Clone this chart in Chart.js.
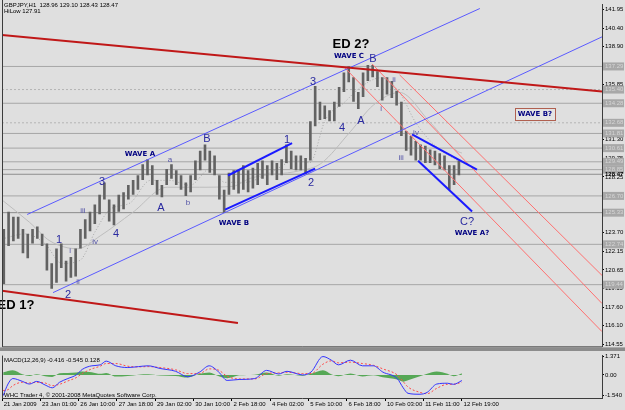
<!DOCTYPE html>
<html><head><meta charset="utf-8">
<script src="https://cdn.jsdelivr.net/npm/chart.js@4.4.1/dist/chart.umd.min.js"></script>
<style>
html,body{margin:0;padding:0;background:#dfdfdf;width:625px;height:410px;overflow:hidden}
#w1{position:absolute;left:0;top:0;width:625px;height:351px}
#w2{position:absolute;left:0;top:351px;width:625px;height:59px}
</style></head><body>
<div id="w1"><canvas id="c1"></canvas></div>
<div id="w2"><canvas id="c2"></canvas></div>
<script>
// ---------- data ----------
const xTickBars = [0,32,64,96,128,160,192,224,256,288,320,352,384];
const xTickLabels = ["21 Jan 2009","23 Jan 01:00","26 Jan 10:00","27 Jan 18:00","29 Jan 02:00","30 Jan 10:00","2 Feb 18:00","4 Feb 02:00","5 Feb 10:00","6 Feb 18:00","10 Feb 03:00","11 Feb 11:00","12 Feb 19:00"];
const yTicks = [141.95,140.40,138.90,137.35,135.85,134.30,132.80,131.30,129.75,128.25,126.70,125.20,123.70,122.15,120.65,119.15,117.60,116.10,114.55];

// price ranges, one per 4 hourly bars
const priceLow = [119.5,122.6,123.0,123.2,122.0,121.6,122.8,123.2,122.6,120.6,
119.1,119.6,120.8,119.7,120.0,120.1,122.4,123.2,123.8,124.4,
125.2,126.4,124.6,124.3,125.4,125.6,126.4,126.8,127.2,128.0,
128.4,127.6,126.8,126.6,127.6,128.1,127.6,127.2,126.7,127.0,
128.0,128.8,129.6,128.6,128.4,126.4,125.3,126.8,127.2,126.9,
127.2,127.0,127.3,127.6,128.1,127.6,128.4,128.0,128.4,129.4,
128.9,128.8,128.8,128.5,129.6,132.4,132.9,133.0,132.8,132.8,
134.0,135.2,136.0,134.4,133.8,134.8,136.1,136.4,135.6,134.5,
135.0,134.7,134.1,131.6,130.4,130.0,129.6,129.6,129.4,129.4,
129.2,128.9,128.8,127.2,127.6,128.4];
const priceHigh = [124.0,125.4,125.0,125.0,124.0,123.6,124.0,124.2,123.6,122.8,
121.2,122.4,122.8,121.4,121.7,122.4,124.0,124.8,125.4,126.0,
126.8,127.8,126.4,126.0,126.8,127.0,127.6,128.0,128.4,129.3,
129.7,129.2,128.0,127.6,128.9,129.3,128.8,128.4,127.8,128.4,
129.6,130.4,130.9,130.4,130.0,128.4,127.2,128.6,128.8,128.8,
129.2,128.8,129.0,129.4,129.6,129.2,129.6,129.4,129.7,130.9,
130.4,130.0,130.0,129.8,132.8,135.7,134.4,134.1,133.7,134.4,
135.6,136.8,137.3,136.4,135.2,136.8,137.4,137.4,136.9,136.4,
136.4,136.1,135.3,134.4,132.0,131.6,131.2,130.9,130.8,130.5,
130.4,130.2,130.0,129.2,129.2,129.6];
const binHours = 4;

const hLevels = [137.29,135.40,134.28,132.68,131.81,130.61,129.49,128.85,126.70,125.33,122.74,119.44];
const lastPrice = 128.47;

const maSlowBars = [0,23,40,63,82,109,138,165,193,207,249,266,291,310,332,357,380,384];
const maSlowVals = [126.37,124.54,123.02,122.38,123.43,125.34,127.41,127.41,127.49,128.13,128.77,129.33,131.97,134.12,135.16,132.77,130.37,130.21];
const maFastBars = [0,19,36,50,65,78,90,107,124,140,157,174,186,203,224,245,257,270,286,299,316,332,345,362,378,384];
const maFastVals = [123.18,123.59,122.78,121.18,121.42,123.82,125.58,126.13,127.97,127.97,127.57,128.93,127.81,127.81,128.61,129.57,129.41,132.92,134.36,135.56,136.36,135.16,132.77,130.77,129.73,129.41];

// trend lines: [bar1, price1, bar2, price2]
const redThick = [[0,139.87,501,135.24],[0,118.95,197,116.31]];
const redThin = [[285,137.3,501,115.6],[309,137.5,501,117.9],[332,136.6,501,120.2]];
const blueThin = [[21,125.18,399,142.03],[42.6,118.79,501,139.71]];
const blueThick = [[188.7,128.37,242.2,131.01],[186.2,125.58,261.4,128.93],[342.4,131.73,396.6,128.85],[347.4,129.57,392.5,125.42]];

// wave labels: text, bar, price, kind
const waveLabels = [
 ["ED 2?",291.4,139.07,"head"],["WAVE C",289.7,138.12,"wave"],["B",309.8,137.88,"big"],
 ["3",259.7,136.04,"big"],["4",283.9,132.29,"big"],["A",299.8,132.84,"big"],
 ["i",316.5,133.80,"small"],["ii",327.3,136.20,"small"],["iii",333.2,129.81,"small"],["iv",345.7,131.89,"small"],
 ["2",258,127.73,"big"],["1",238,131.25,"big"],["WAVE B",193.7,124.46,"wave"],
 ["B",171.2,131.33,"big"],["a",140.3,129.65,"small"],["b",155.3,126.13,"small"],["A",132.8,125.74,"big"],
 ["WAVE A",115.2,130.13,"wave"],["3",83.5,127.81,"big"],["iii",67.6,125.50,"small"],["4",95.2,123.59,"big"],
 ["iv",77.7,122.94,"small"],["1",47.6,123.10,"big"],["i",56.8,122.22,"small"],["ii",63.5,119.67,"small"],
 ["2",55.1,118.63,"big"],["ED 1?",11.7,117.75,"head"],["C?",388.3,124.54,"big"],
 ["WAVE A?",392.5,123.66,"wave"],["WAVE B?",445,133.40,"box"]
];

const macdBars = [1,5,9,17,23,29,36,42,48,55,62,67,75,82,87,95,105,114,122,132,145,155,165,173,181,188,198,211,221,231,238,251,258,268,275,281,291,301,310,318,330,335,339,349,355,363,372,377,384];
const macdMain = [-1.54,-0.68,-0.27,-0.48,-0.68,-0.48,-0.75,-0.96,-0.55,-0.27,0,0.41,0.68,0.75,1.03,0.68,0.55,0.62,0.68,0.48,0.27,-0.14,0.21,0.68,0.21,-0.41,-0.34,-0.27,0.34,0.07,0.27,0,0.21,1.37,1.10,0.75,1.10,0.68,0.68,0.21,-0.27,-0.96,-1.37,-1.44,-1.30,-0.68,-0.62,-0.70,-0.42];
const macdSignal = [-1.16,-1.1,-0.8,-0.55,-0.6,-0.55,-0.6,-0.8,-0.7,-0.45,-0.2,0.1,0.45,0.65,0.85,0.85,0.65,0.6,0.62,0.55,0.38,0.1,0.1,0.45,0.35,-0.1,-0.3,-0.3,0.1,0.15,0.2,0.1,0.1,0.8,1.05,0.9,0.95,0.85,0.72,0.45,0.0,-0.5,-0.9,-1.3,-1.4,-1.0,-0.7,-0.7,-0.545];
const macdHist = [0.2,0.3,0.35,0.05,-0.08,0.05,-0.1,-0.15,0.12,0.15,0.18,0.25,0.2,0.08,0.15,-0.12,-0.08,0.02,0.05,-0.05,-0.08,-0.2,0.08,0.18,-0.1,-0.25,-0.03,0.02,0.18,-0.06,0.05,-0.06,0.08,0.35,0.05,-0.1,0.1,-0.12,-0.03,-0.18,-0.35,-0.5,-0.4,-0.1,0.08,0.25,0.08,-0.1,0.128];
const macdTicks = [1.371,0,-1.54];
const macdTickText = ["1.371","0.00","-1.540"];

// ---------- chart building ----------
const X_MAX = 501;
const SMALL = "6px 'Liberation Sans', Arial, sans-serif";
const segs = (arr, color, width, order, dash) => arr.map(s => ({
  type:'line', data:[{x:s[0],y:s[1]},{x:s[2],y:s[3]}], borderColor:color, borderWidth:width,
  borderDash:dash||[], pointRadius:0, order:order, clip:0
}));

const datasets = [];
hLevels.forEach((v,i) => datasets.push({type:'line', data:[{x:0,y:v},{x:X_MAX,y:v}], borderColor:(i===1||i===3)?'#b4b4b4':(i===9?'#8a8a8a':'#a6a6a6'), borderWidth:1, borderDash:(i===1||i===3)?[2,2]:[], pointRadius:0, order:20, clip:0}));
datasets.push({type:'line', data:[{x:0,y:lastPrice},{x:X_MAX,y:lastPrice}], borderColor:'#8e8e8e', borderWidth:1, pointRadius:0, order:20, clip:0});
datasets.push({type:'line', data:maSlowBars.map((b,i)=>({x:b,y:maSlowVals[i]})), borderColor:'#bdbdbd', borderWidth:1, pointRadius:0, cubicInterpolationMode:'monotone', order:15, clip:0});
datasets.push({type:'line', data:maFastBars.map((b,i)=>({x:b,y:maFastVals[i]})), borderColor:'#a8a8a8', borderWidth:1, borderDash:[1,2], pointRadius:0, cubicInterpolationMode:'monotone', order:15, clip:0});
datasets.push({type:'bar', data:priceLow.map((lo,i)=>({x:i*binHours+1.5, y:[lo, priceHigh[i]]})), backgroundColor:'#626262', borderWidth:0, barPercentage:0.55, categoryPercentage:1, order:10, grouped:false});
segs(redThin,'#ff7070',1,5).forEach(d=>datasets.push(d));
segs(blueThin,'#5a5aff',1,4).forEach(d=>datasets.push(d));
segs(redThick,'#c01818',2,3).forEach(d=>datasets.push(d));
segs(blueThick,'#1a1aff',2,2).forEach(d=>datasets.push(d));

const labelStyle = {
  head:{font:"bold 13px 'Liberation Sans', Arial, sans-serif", color:'#000000'},
  wave:{font:"bold 7px 'DejaVu Sans', Verdana, sans-serif", color:'#000080'},
  big:{font:"11px 'Liberation Sans', Arial, sans-serif", color:'#2a2aa0'},
  small:{font:"8px 'Liberation Sans', Arial, sans-serif", color:'#5656a8'},
  box:{font:"bold 7px 'DejaVu Sans', Verdana, sans-serif", color:'#000080'}
};

const mainPlugin = {
  id:'mainOverlay',
  beforeDraw(chart){
    const {ctx} = chart;
    ctx.save(); ctx.fillStyle='#dfdfdf'; ctx.fillRect(0,0,chart.width,chart.height); ctx.restore();
  },
  afterDatasetsDraw(chart){
    const {ctx, scales:{x,y}} = chart;
    ctx.save();
    ctx.textAlign='center'; ctx.textBaseline='middle';
    waveLabels.forEach(l=>{
      const st = labelStyle[l[3]];
      ctx.font = st.font; ctx.fillStyle = st.color;
      const px = x.getPixelForValue(l[1]), py = y.getPixelForValue(l[2]);
      if(l[3]==='box'){
        const w = ctx.measureText(l[0]).width+6;
        ctx.fillStyle='#e4e4e4'; ctx.fillRect(px-w/2,py-6,w,12);
        ctx.strokeStyle='#b06050'; ctx.lineWidth=1; ctx.strokeRect(Math.round(px-w/2)+0.5,Math.round(py-6)+0.5,Math.round(w),12);
        ctx.fillStyle=st.color;
      }
      ctx.fillText(l[0], px, py);
    });
    ctx.restore();
  },
  afterDraw(chart){
    const {ctx, chartArea:a, scales:{y}} = chart;
    ctx.save();
    ctx.strokeStyle='#3c3c3c'; ctx.lineWidth=1;
    ctx.beginPath(); ctx.moveTo(a.left+0.5,0); ctx.lineTo(a.left+0.5,a.bottom+0.5); ctx.lineTo(a.right,a.bottom+0.5); ctx.stroke();
    ctx.fillStyle='#8c8c8c'; ctx.fillRect(0,a.bottom+1,chart.width,chart.height-a.bottom-1);
    ctx.font = SMALL; ctx.textAlign='left'; ctx.textBaseline='middle';
    hLevels.forEach(v=>{
      const py = y.getPixelForValue(v);
      ctx.fillStyle='#a8a8a8'; ctx.fillRect(a.right+1, py-4, 21, 8);
      ctx.fillStyle='#d6d6d6'; ctx.fillText(v.toFixed(2), a.right+3, py);
    });
    const pl = y.getPixelForValue(lastPrice);
    ctx.fillStyle='#000000'; ctx.font="bold 6px 'Liberation Sans', Arial, sans-serif";
    ctx.fillText(lastPrice.toFixed(2), a.right+3, pl);
    ctx.font = SMALL; ctx.fillStyle='#000000';
    ctx.fillText('GBPJPY,H1  128.96 129.10 128.43 128.47', 4, 5);
    ctx.fillText('HiLow 127.91', 4, 11);
    ctx.restore();
  }
};

new Chart(document.getElementById('c1'), {
  data:{datasets},
  options:{
    responsive:true, maintainAspectRatio:false, animation:false,
    layout:{padding:{left:2,top:0,right:0,bottom:1}},
    plugins:{legend:{display:false}, tooltip:{enabled:false}},
    scales:{
      x:{type:'linear', min:0, max:X_MAX, display:false, offset:false},
      y:{type:'linear', position:'right', min:114.39, max:142.35,
         afterBuildTicks:s=>{s.ticks = yTicks.map(v=>({value:v}));},
         afterFit:s=>{s.width=23;},
         grid:{display:true, drawOnChartArea:false, drawTicks:true, tickLength:2, color:'#000'},
         border:{display:true, color:'#3c3c3c'},
         ticks:{padding:1, color:'#000', font:{family:"'Liberation Sans', Arial, sans-serif", size:6}, callback:v=>v.toFixed(2), autoSkip:false}
      }
    }
  },
  plugins:[mainPlugin]
});

const macdPlugin = {
  id:'macdOverlay',
  beforeDraw(chart){
    const {ctx} = chart;
    ctx.save(); ctx.fillStyle='#dfdfdf'; ctx.fillRect(0,0,chart.width,chart.height); ctx.restore();
  },
  afterDraw(chart){
    const {ctx, chartArea:a} = chart;
    ctx.save();
    ctx.strokeStyle='#3c3c3c'; ctx.lineWidth=1;
    ctx.beginPath(); ctx.moveTo(a.left+0.5,a.top); ctx.lineTo(a.left+0.5,a.bottom+0.5); ctx.stroke();
    ctx.font = SMALL; ctx.fillStyle='#000'; ctx.textAlign='left'; ctx.textBaseline='middle';
    ctx.fillText('MACD(12,26,9) -0.416 -0.545 0.128', 4, a.top+5);
    ctx.fillText('WHC Trader 4, \u00a9 2001-2008 MetaQuotes Software Corp.', 4, a.bottom-3);
    ctx.restore();
  }
};

new Chart(document.getElementById('c2'), {
  data:{datasets:[
    {type:'line', data:macdBars.map((b,i)=>({x:b,y:macdMain[i]})), borderColor:'#3434ff', borderWidth:1, pointRadius:0, cubicInterpolationMode:'monotone', order:1, clip:0},
    {type:'line', data:macdBars.map((b,i)=>({x:b,y:macdSignal[i]})), borderColor:'#ff4a4a', borderWidth:1, borderDash:[2,2], pointRadius:0, cubicInterpolationMode:'monotone', order:2, clip:0},
    {type:'line', data:macdBars.map((b,i)=>({x:b,y:macdHist[i]})), borderWidth:0, borderColor:'rgba(0,0,0,0)', backgroundColor:'rgba(40,150,40,0.75)', fill:'origin', pointRadius:0, cubicInterpolationMode:'monotone', order:3, clip:0}
  ]},
  options:{
    responsive:true, maintainAspectRatio:false, animation:false,
    layout:{padding:{left:2,top:1,right:0,bottom:0}},
    plugins:{legend:{display:false}, tooltip:{enabled:false}},
    scales:{
      x:{type:'linear', min:0, max:X_MAX, position:'bottom',
         afterBuildTicks:s=>{s.ticks = xTickBars.map(v=>({value:v}));},
         afterFit:s=>{s.height=12;},
         grid:{display:true, drawOnChartArea:false, drawTicks:true, tickLength:3, color:'#000'},
         border:{display:true, color:'#3c3c3c'},
         ticks:{align:'start', padding:0, maxRotation:0, autoSkip:false, color:'#000', font:{family:"'Liberation Sans', Arial, sans-serif", size:6}, callback:(v,i)=>' '+xTickLabels[i]}
      },
      y:{type:'linear', position:'right', min:-1.72, max:1.44,
         afterBuildTicks:s=>{s.ticks = macdTicks.map(v=>({value:v}));},
         afterFit:s=>{s.width=23;},
         grid:{display:true, drawOnChartArea:false, drawTicks:true, tickLength:2, color:'#000'},
         border:{display:true, color:'#3c3c3c'},
         ticks:{padding:1, color:'#000', font:{family:"'Liberation Sans', Arial, sans-serif", size:6}, callback:(v,i)=>macdTickText[i], autoSkip:false}
      }
    }
  },
  plugins:[macdPlugin]
});
</script>
</body></html>
